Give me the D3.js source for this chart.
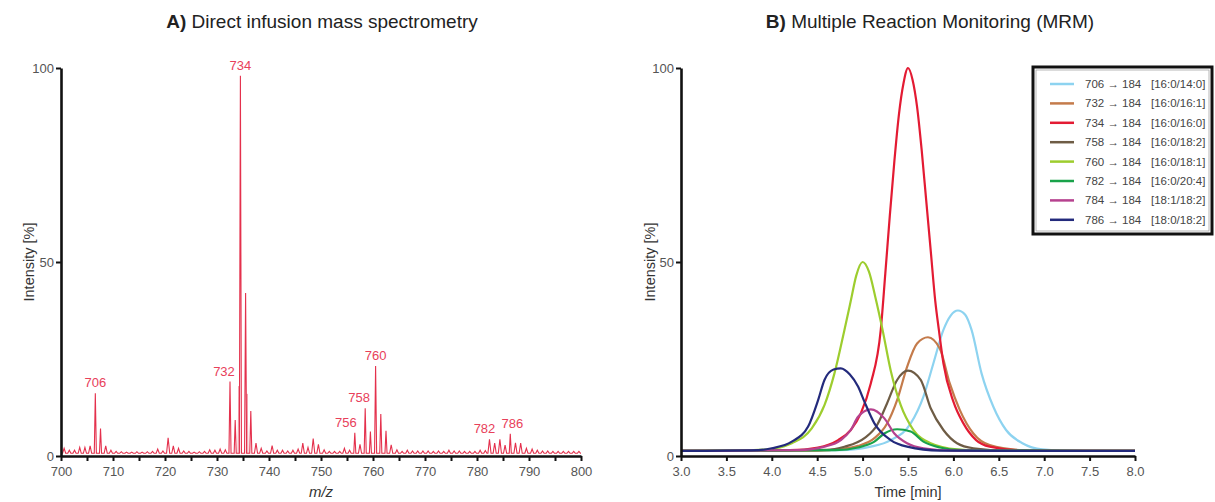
<!DOCTYPE html>
<meta charset="utf-8">
<script src="https://d3js.org/d3.v7.min.js"></script>
<style>
  body { margin: 0; background: #fff; }
  text { font-family: "Liberation Sans", Arial, sans-serif; }
</style>
<div id="chart"></div>
<script>
// ---------- data: panel A, direct infusion spectrum (m/z, intensity %) ----------
var specMz = [700.6,701.6,702.6,703.6,704.6,705.6,706.6,707.6,708.6,709.6,710.6,711.6,712.6,713.6,714.6,715.6,716.6,717.6,718.6,719.6,
  720.6,721.6,722.6,723.6,724.6,725.6,726.6,727.6,728.6,729.6,730.6,731.6,732.5,733.5,734.5,735.5,736.5,737.5,738.5,739.6,
  740.6,741.6,742.6,743.6,744.6,745.6,746.5,747.5,748.5,749.5,750.6,751.6,752.6,753.6,754.5,755.5,756.5,757.5,758.5,759.5,
  760.5,761.5,762.5,763.5,764.6,765.6,766.6,767.6,768.6,769.6,770.6,771.6,772.6,773.6,774.6,775.6,776.6,777.6,778.6,779.6,
  780.6,781.6,782.4,783.4,784.4,785.4,786.4,787.4,788.4,789.5,790.6,791.6,792.6,793.6,794.6,795.6,796.6,797.6,798.6,799.6];
var specInt = [2.0,1.5,1.5,2.2,2.2,2.6,16.2,7.1,2.6,1.5,1.2,1.1,1.0,1.0,1.1,1.0,1.1,1.2,1.8,1.3,
  4.7,2.6,2.0,1.3,1.2,1.0,1.1,1.2,1.6,1.5,1.8,1.6,19.2,9.3,98,42,11.6,3.3,2.0,1.3,
  2.7,1.5,1.5,1.3,1.5,1.8,3.3,2.2,4.5,3.0,1.6,1.2,1.2,1.2,2.0,1.5,6.0,3.0,12.3,6.3,
  23.2,10.8,6.5,2.9,1.6,1.2,1.5,1.3,1.3,1.3,1.3,1.2,1.3,1.2,1.5,1.3,1.3,1.2,1.2,1.2,
  1.5,1.4,4.3,3.3,4.3,2.8,5.7,3.4,3.3,2.0,1.8,1.5,1.3,1.3,1.2,1.2,1.2,1.2,1.2,1.2];
var specBase = 0.7;
// fainter shoulder traces next to the base peak
var shoulderMz = [734.2, 735.8];
var shoulderInt = [18, 16];
var peakLabels = ["706","732","734","756","758","760","782","786"];
var peakLabelMz = [706.6,732.5,734.5,756.5,758.5,760.5,782.4,786.4];
var mzTicks = [700,710,720,730,740,750,760,770,780,790,800];
var intTicks = [0,50,100];

// ---------- data: panel B, MRM traces (time min, intensity %) ----------
var transitions = ["706 \u2192 184","732 \u2192 184","734 \u2192 184","758 \u2192 184","760 \u2192 184","782 \u2192 184","784 \u2192 184","786 \u2192 184"];
var species = ["[16:0/14:0]","[16:0/16:1]","[16:0/16:0]","[16:0/18:2]","[16:0/18:1]","[16:0/20:4]","[18:1/18:2]","[18:0/18:2]"];
var traceColors = ["#8dd3f0","#c47b4b","#e31b33","#6e5c45","#9dcd2e","#19a24a","#b6428f","#232a7c"];
var t706 = [[3.0,1.3],[4.76,1.5],[5.09,2.4],[5.31,4.1],[5.53,8.4],[5.67,15.3],[5.78,23.9],[5.89,32.5],[5.97,36.2],[6.05,37.5],[6.13,36.4],[6.2,32.5],[6.31,21.3],[6.44,12.7],[6.58,6.7],[6.76,3.3],[6.98,1.7],[7.3,1.3],[8.0,1.3]];
var t732 = [[3.0,1.3],[4.5,1.4],[4.76,1.8],[4.95,2.6],[5.13,4.6],[5.27,8.4],[5.38,14.4],[5.49,23.0],[5.6,29.0],[5.72,30.6],[5.85,27.7],[5.96,18.7],[6.07,11.9],[6.22,5.8],[6.4,2.8],[6.76,1.5],[7.2,1.3],[8.0,1.3]];
var t734 = [[3.0,1.3],[4.2,1.5],[4.51,2.2],[4.73,4.1],[4.87,6.7],[4.98,11.0],[5.09,18.7],[5.2,32.5],[5.25,47],[5.3,62],[5.35,76],[5.4,88],[5.45,96],[5.5,100],[5.55,97],[5.6,90],[5.65,79],[5.7,66],[5.75,53],[5.8,40],[5.84,32.5],[5.89,23.9],[6.0,14.0],[6.11,8.4],[6.25,4.1],[6.4,2.4],[6.76,1.4],[7.2,1.3],[8.0,1.3]];
var t758 = [[3.0,1.3],[4.6,1.6],[4.8,2.4],[5.02,4.6],[5.16,8.0],[5.27,13.6],[5.38,19.6],[5.5,22.0],[5.64,19.6],[5.75,12.3],[5.89,6.7],[6.04,3.3],[6.22,2.0],[6.6,1.4],[8.0,1.3]];
var t760 = [[3.0,1.3],[3.8,1.5],[4.04,2.0],[4.22,3.3],[4.44,7.1],[4.58,13.1],[4.69,21.3],[4.8,32.5],[4.87,40],[4.93,46.5],[5.0,50],[5.07,47.5],[5.14,41],[5.22,32.5],[5.31,22.0],[5.42,13.1],[5.56,6.7],[5.75,3.3],[6.04,1.7],[6.4,1.3],[8.0,1.3]];
var t782 = [[3.0,1.3],[4.7,1.5],[4.95,2.2],[5.13,3.7],[5.24,5.8],[5.38,6.9],[5.53,6.3],[5.67,3.7],[5.85,2.2],[6.1,1.5],[8.0,1.3]];
var t784 = [[3.0,1.3],[4.3,1.5],[4.58,2.4],[4.76,4.1],[4.87,6.7],[4.95,10.1],[5.09,12.0],[5.24,9.7],[5.35,5.8],[5.49,3.3],[5.67,2.0],[6.0,1.4],[8.0,1.3]];
var t786 = [[3.0,1.3],[3.85,1.5],[4.0,2.0],[4.22,3.7],[4.4,7.6],[4.51,14.4],[4.58,19.6],[4.68,22.3],[4.76,22.6],[4.86,21.0],[4.95,17.9],[5.02,14.0],[5.13,8.4],[5.31,4.1],[5.49,2.4],[5.85,1.4],[8.0,1.3]];
var traces = [t706,t732,t734,t758,t760,t782,t784,t786];
var timeTicks = [3.0,3.5,4.0,4.5,5.0,5.5,6.0,6.5,7.0,7.5,8.0];

var W = 1215, H = 502;
var svg = d3.select("#chart").append("svg").attr("width", W).attr("height", H);

function styleAxis(g) {
  g.select(".domain").attr("stroke", "#111").attr("stroke-width", 2.6);
  g.selectAll(".tick line").attr("stroke", "#111").attr("stroke-width", 2);
  g.selectAll(".tick text").attr("fill", "#555").style("font-size", "13px")
    .style("font-family", "'Liberation Sans', Arial, sans-serif");
}

// ================= Panel A =================
var xA = d3.scaleLinear().domain([700, 800]).range([61, 581]);
var yA = d3.scaleLinear().domain([0, 100]).range([456, 68]);

svg.append("text").attr("x", 322).attr("y", 28).attr("text-anchor", "middle")
  .style("font-size", "19px").attr("fill", "#222")
  .html('<tspan font-weight="bold">A)</tspan> Direct infusion mass spectrometry');

// build the profile: each centroid becomes a narrow spike on the baseline
var specPts = [[700, specBase]];
specMz.forEach(function(m, i) {
  var hw = specInt[i] > 5 ? 0.2 : 0.3;
  specPts.push([m - hw, specBase], [m, specInt[i]], [m + hw, specBase]);
});
specPts.push([800, specBase]);

var specLine = d3.line().x(function(d){ return xA(d[0]); }).y(function(d){ return yA(d[1]); });

svg.append("g").selectAll("path").data(shoulderMz).enter().append("path")
  .attr("d", function(m, i){ return specLine([[m - 0.15, specBase], [m, shoulderInt[i]], [m + 0.15, specBase]]); })
  .attr("fill", "none").attr("stroke", "#f09aa8").attr("stroke-width", 1);

svg.append("path").datum(specPts)
  .attr("d", specLine)
  .attr("fill", "none").attr("stroke", "#e4304c").attr("stroke-width", 1.1);

var labelDx = [0, -6, 0, -9, -6, 0, -5, 2];
svg.append("g").selectAll("text").data(peakLabels).enter().append("text")
  .attr("x", function(d, i){ return xA(peakLabelMz[i]) + labelDx[i]; })
  .attr("y", function(d, i){ return yA(specInt[specMz.indexOf(peakLabelMz[i])]) - 6; })
  .attr("text-anchor", "middle").attr("fill", "#e8405a").style("font-size", "13px")
  .text(function(d){ return d; });

svg.append("g").attr("transform", "translate(0,456)")
  .call(d3.axisBottom(xA).tickValues(d3.range(700, 801, 5)).tickSize(5).tickSizeOuter(0).tickPadding(6)
    .tickFormat(function(d){ return mzTicks.indexOf(d) >= 0 ? d : ""; }))
  .call(styleAxis);
svg.append("g").attr("transform", "translate(61,0)")
  .call(d3.axisLeft(yA).tickValues(intTicks).tickSize(5).tickSizeOuter(0).tickPadding(2))
  .call(styleAxis);

svg.append("text").attr("transform", "translate(34,262) rotate(-90)").attr("text-anchor", "middle")
  .style("font-size", "14.5px").attr("fill", "#333").text("Intensity [%]");
svg.append("text").attr("x", 321).attr("y", 497).attr("text-anchor", "middle")
  .style("font-size", "15px").style("font-style", "italic").attr("fill", "#333").text("m/z");

// ================= Panel B =================
var xB = d3.scaleLinear().domain([3, 8]).range([681, 1135]);
var yB = d3.scaleLinear().domain([0, 100]).range([456, 68]);

svg.append("text").attr("x", 930).attr("y", 28).attr("text-anchor", "middle")
  .style("font-size", "19px").attr("fill", "#222")
  .html('<tspan font-weight="bold">B)</tspan> Multiple Reaction Monitoring (MRM)');

var line = d3.line().curve(d3.curveMonotoneX)
  .x(function(d){ return xB(d[0]); }).y(function(d){ return yB(d[1]); });

svg.append("g").selectAll("path").data(traces).enter().append("path")
  .attr("d", line).attr("fill", "none")
  .attr("stroke", function(d, i){ return traceColors[i]; })
  .attr("stroke-width", 2.2);

svg.append("g").attr("transform", "translate(0,456)")
  .call(d3.axisBottom(xB).tickValues(timeTicks).tickSize(5).tickSizeOuter(0).tickPadding(6)
    .tickFormat(d3.format(".1f")))
  .call(styleAxis);
svg.append("g").attr("transform", "translate(681,0)")
  .call(d3.axisLeft(yB).tickValues(intTicks).tickSize(5).tickSizeOuter(0).tickPadding(2))
  .call(styleAxis);

svg.append("text").attr("transform", "translate(655,262) rotate(-90)").attr("text-anchor", "middle")
  .style("font-size", "14.5px").attr("fill", "#333").text("Intensity [%]");
svg.append("text").attr("x", 908).attr("y", 497).attr("text-anchor", "middle")
  .style("font-size", "14.5px").attr("fill", "#333").text("Time [min]");

// legend
var lg = svg.append("g").attr("transform", "translate(1033,67)");
lg.append("rect").attr("x", 0).attr("y", 0).attr("width", 179).attr("height", 167)
  .attr("fill", "#fff").attr("stroke", "#111").attr("stroke-width", 3);
lg.append("rect").attr("x", 3).attr("y", 3).attr("width", 173).attr("height", 161)
  .attr("fill", "none").attr("stroke", "#999").attr("stroke-width", 0.7);
var rows = lg.selectAll("g.row").data(transitions).enter().append("g")
  .attr("transform", function(d, i){ return "translate(0," + (17 + i * 19.4) + ")"; });
rows.append("line").attr("x1", 17).attr("x2", 41)
  .attr("stroke", function(d, i){ return traceColors[i]; }).attr("stroke-width", 2.5);
rows.append("text").attr("x", 52).attr("y", 4).style("font-size", "11.5px").attr("fill", "#444")
  .text(function(d){ return d; });
rows.append("text").attr("x", 118).attr("y", 4).style("font-size", "11.5px").attr("fill", "#444")
  .text(function(d, i){ return species[i]; });
</script>
